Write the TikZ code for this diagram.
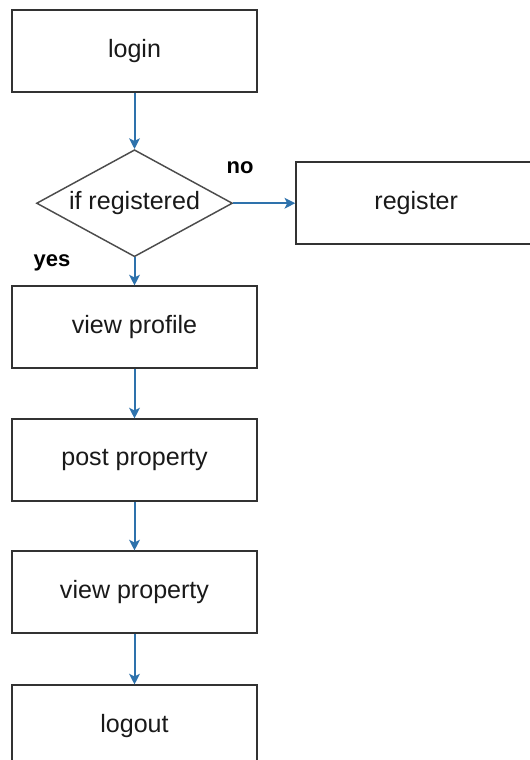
\documentclass[tikz,border=0pt]{standalone}
\usepackage{fontspec}
\setmainfont{Liberation Sans}
\usetikzlibrary{arrows.meta,positioning,shapes.geometric}
\definecolor{flowblue}{RGB}{46,114,172}
\definecolor{boxgray}{RGB}{50,50,50}
\tikzset{
  blk/.style={draw=boxgray,rectangle,minimum width=183.75pt,minimum height=61.5pt,line width=1.5pt,align=center,text=black!90,font=\fontsize{18.8}{22}\selectfont},
  regblk/.style={blk,minimum width=180pt},
  decblk/.style={draw=black!70,diamond,aspect=1.83,minimum width=147pt,minimum height=80.25pt,inner sep=0pt,line width=1.1pt,text=black!90,font=\fontsize{18.8}{22}\selectfont},
  arr/.style={-{Stealth[length=8pt,width=8pt,inset=2pt]},line width=1.5pt,flowblue},
  lbl/.style={font=\fontsize{16.5}{18}\selectfont\bfseries,align=center}
}
\begin{document}
\begin{tikzpicture}[x=0.75pt,y=-0.75pt,node distance=36.75pt and 46.5pt]
  \useasboundingbox (0,0) rectangle (530,760);
  \clip (0,0) rectangle (530,760);

  \node[blk] (login) at (134.5,51) {login};
  \node[decblk, below=42pt of login] (dec) {if registered};
  \node[regblk, right=of dec] (reg) {register};
  \node[blk, below=21pt of dec] (prof) {view profile};
  \node[blk, below=of prof] (post) {post property};
  \node[blk, below=36pt of post] (viewp) {view property};
  \node[blk, below=37.5pt of viewp] (logout) {logout};

  \draw[arr] (login)--(dec);
  \draw[arr] (dec.east)--(reg.west);
  \draw[arr] (dec.south)--(prof.north);
  \draw[arr] (prof)--(post);
  \draw[arr] (post)--(viewp);
  \draw[arr] (viewp)--(logout);

  \node[lbl] (no) at (240,168) {no};
  \node[lbl] (yes) at (52,263) {yes};
\end{tikzpicture}
\end{document}
